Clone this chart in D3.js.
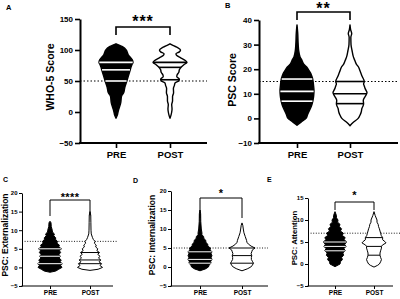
<!DOCTYPE html>
<html><head><meta charset="utf-8">
<script src="https://cdn.jsdelivr.net/npm/d3@7"></script>
<style>
body{margin:0;background:#fff;}
svg{display:block;font-family:"Liberation Sans",Arial,sans-serif;}
</style></head><body>
<svg id="c" width="400" height="299"></svg>
<script>
const groups = ["PRE", "POST"];

// Violin density profiles: [score value, relative density]
const whoPre = [[110,0],[107,0.25],[105,0.4],[100,0.6],[95,0.68],[92,0.72],[88,0.85],[84,0.96],[80,1.0],[76,0.93],[72,0.88],[68,0.84],[60,0.75],[50,0.64],[40,0.52],[31,0.45],[25,0.32],[15,0.28],[5,0.17],[0,0.12],[-5,0.08],[-10,0]];
const whoPost = [[110,0],[107,0.2],[104,0.45],[100,0.62],[97,0.55],[94,0.35],[91,0.4],[87,0.65],[83,0.9],[80,1.0],[77,0.85],[73,0.68],[68,0.55],[64,0.52],[60,0.42],[57,0.4],[53,0.55],[50,0.5],[47,0.3],[43,0.26],[38,0.2],[31,0.21],[25,0.15],[18,0.15],[12,0.1],[5,0.12],[0,0.1],[-5,0.06],[-10,0]];
const pscPre = [[38,0],[35,0.04],[30,0.07],[27.6,0.1],[25,0.18],[23.6,0.29],[22,0.4],[20.9,0.57],[19.5,0.7],[18.8,0.77],[17,0.88],[15.4,0.94],[13,0.98],[11.4,1.0],[9,0.98],[7.3,0.94],[5,0.85],[3.3,0.74],[1.5,0.62],[0,0.53],[-1.5,0.24],[-2.8,0]];
const pscPost = [[38,0],[36,0.04],[34.5,0.1],[33,0.05],[30,0.06],[27.6,0.12],[25,0.2],[23.6,0.28],[22,0.38],[20.9,0.5],[19.5,0.58],[18.8,0.62],[17,0.72],[15,0.84],[14,0.8],[13.2,0.84],[12,0.9],[10.5,1.0],[9,0.9],[7.3,0.78],[6,0.8],[5.3,0.78],[4,0.7],[2.6,0.66],[1.5,0.6],[0,0.48],[-1.7,0.18],[-3,0]];
const extPre = [[12.4,0],[12,0.08],[11,0.1],[10,0.18],[9.5,0.2],[9,0.35],[8.5,0.3],[8,0.45],[7.5,0.45],[7,0.6],[6.5,0.55],[6,0.75],[5.5,0.7],[5,0.92],[4.5,0.75],[4,0.85],[3.5,0.72],[3,0.82],[2.5,0.72],[2,0.9],[1.5,0.8],[1,0.98],[0.5,0.85],[0,0.96],[-0.5,0.7],[-1,0.45],[-1.3,0]];
const extPost = [[15,0],[14,0.06],[12,0.07],[10,0.08],[9,0.1],[8,0.2],[7.5,0.27],[7,0.4],[6.5,0.35],[6,0.5],[5.5,0.45],[5,0.62],[4.5,0.55],[4,0.75],[3.5,0.62],[3,0.8],[2.5,0.68],[2,0.86],[1.5,0.72],[1,0.92],[0.5,0.8],[0,1.0],[-0.5,0.65],[-0.8,0]];
const intPre = [[15,0],[14,0.05],[12,0.06],[10,0.1],[9,0.15],[8.5,0.15],[8,0.28],[7.5,0.3],[7,0.45],[6.5,0.45],[6,0.6],[5.5,0.6],[5,0.8],[4.5,0.78],[4,0.92],[3.5,0.85],[3,0.92],[2.5,0.86],[2,0.92],[1.5,0.82],[1,0.85],[0.5,0.7],[0,0.65],[-0.5,0.42],[-1,0]];
const intPost = [[11.6,0],[11,0.06],[10,0.1],[9,0.15],[8,0.25],[7,0.35],[6.5,0.38],[6,0.5],[5.5,0.7],[5,1.0],[4.5,0.8],[4,0.75],[3.5,0.7],[3,0.75],[2.5,0.72],[2,0.72],[1.5,0.8],[1,0.88],[0.5,0.8],[0,0.68],[-0.5,0.4],[-1,0]];
const attPre = [[11.9,0],[11,0.12],[10.5,0.12],[10,0.25],[9.5,0.22],[9,0.42],[8.5,0.35],[8,0.55],[7.5,0.45],[7,0.7],[6.5,0.6],[6,0.85],[5.5,0.75],[5,1.0],[4.5,0.8],[4,0.92],[3.5,0.75],[3,0.85],[2.5,0.65],[2,0.72],[1.5,0.55],[1,0.62],[0.5,0.45],[0,0.42],[-0.6,0]];
const attPost = [[11.9,0],[11,0.1],[10,0.25],[9.5,0.25],[9,0.35],[8.5,0.38],[8,0.45],[7.5,0.5],[7,0.55],[6.5,0.6],[6,0.72],[5.5,0.72],[5,0.95],[4.8,1.0],[4.3,0.7],[4,0.62],[3.6,0.62],[3,0.55],[2.5,0.5],[2,0.5],[1.5,0.55],[1,0.62],[0.5,0.55],[0,0.45],[-0.3,0.3],[-0.7,0]];

// Quartiles [Q1, median, Q3]
const qWhoPre = [50, 68, 80], qWhoPost = [52, 72, 80];
const qPscPre = [7, 11, 16], qPscPost = [6, 10, 15];
const qExtPre = [1, 3, 5], qExtPost = [1, 2, 4];
const qIntPre = [1, 2, 4], qIntPost = [1, 3, 5];
const qAttPre = [3, 4, 5], qAttPost = [2, 4, 6];

// Tick values
const ticksWho = [-50, 0, 50, 100, 150];
const ticksPsc = [-10, 0, 10, 20, 30, 40];
const ticksExt = [-5, 0, 5, 10, 15, 20];
const ticksInt = [-5, 0, 5, 10, 15, 20];
const ticksAtt = [-5, 0, 5, 10, 15];

// Cutoff reference lines
const cutWho = 50, cutPsc = 15, cutExt = 7, cutInt = 5, cutAtt = 7;

const svg = d3.select("#c");

function densAt(prof, v) {
  for (let i = 0; i < prof.length - 1; i++) {
    const a = prof[i], b = prof[i + 1];
    if (v <= a[0] && v >= b[0]) {
      const t = (a[0] - v) / (a[0] - b[0]);
      return a[1] + t * (b[1] - a[1]);
    }
  }
  return 0;
}

function panel(p) {
  const g = svg.append("g");
  const y = d3.scaleLinear().domain(p.domain).range([p.yBottom, p.yTop]);
  const x = d3.scalePoint().domain(groups).range([p.xPre, p.xPost]);
  const w = d3.scaleLinear().domain([0, 1]).range([0, p.maxHalf]);

  g.append("line").attr("x1", p.axisX).attr("x2", p.dotEnd)
    .attr("y1", y(p.cut)).attr("y2", y(p.cut))
    .attr("stroke", "#000").attr("stroke-width", p.big ? 1.2 : 0.9)
    .attr("stroke-dasharray", p.big ? "1.5,2" : "1,1.6");

  const curve = p.big ? d3.curveMonotoneY : d3.curveLinear;
  [[p.pre, p.qPre, "PRE"], [p.post, p.qPost, "POST"]].forEach(([prof, q, grp]) => {
    const cx = x(grp);
    const area = d3.area().curve(curve)
      .y(d => y(d[0])).x0(d => cx - w(d[1])).x1(d => cx + w(d[1]));
    const filled = grp === "PRE";
    g.append("path").datum(prof).attr("d", area)
      .attr("fill", filled ? "#000" : "#fff")
      .attr("stroke", "#000").attr("stroke-width", p.big ? 1.4 : 1)
      .attr("stroke-linejoin", "round");
    q.forEach(v => {
      const hw = w(densAt(prof, v)) - (filled ? 0.3 : 0);
      g.append("line").attr("x1", cx - hw).attr("x2", cx + hw)
        .attr("y1", y(v)).attr("y2", y(v))
        .attr("stroke", filled ? "#fff" : "#000")
        .attr("stroke-width", p.big ? 1.6 : 1);
    });
  });

  const ya = d3.axisLeft(y).tickValues(p.ticks).tickSize(p.big ? 5 : 3)
    .tickSizeOuter(0).tickPadding(p.big ? 2 : 1.5);
  const yg = g.append("g").attr("transform", `translate(${p.axisX},0)`).call(ya);
  yg.select(".domain").attr("stroke-width", p.big ? 2 : 1);
  yg.selectAll(".tick line").attr("stroke-width", p.big ? 1.6 : 1);
  yg.selectAll("text").attr("font-size", p.tickFs).attr("font-weight", "bold")
    .attr("fill", "#000").attr("font-family", "Liberation Sans, Arial, sans-serif");

  g.append("line").attr("x1", p.axisX - (p.big ? 1 : 0.5)).attr("x2", p.axisEnd)
    .attr("y1", p.yBottom).attr("y2", p.yBottom)
    .attr("stroke", "#000").attr("stroke-width", p.big ? 2 : 1);
  const xa = d3.axisBottom(x).tickSize(p.big ? 5 : 3).tickSizeOuter(0).tickPadding(p.big ? 3 : 1.5);
  const xg = g.append("g").attr("transform", `translate(0,${p.yBottom})`).call(xa);
  xg.select(".domain").remove();
  xg.selectAll(".tick line").attr("stroke-width", p.big ? 1.6 : 1);
  xg.selectAll("text").attr("font-size", p.catFs).attr("font-weight", "bold")
    .attr("fill", "#000").attr("font-family", "Liberation Sans, Arial, sans-serif");

  const bx0 = x("PRE"), bx1 = x("POST");
  g.append("path")
    .attr("d", `M${bx0},${p.legEnd}V${p.brTop}H${bx1}V${p.legEnd}`)
    .attr("fill", "none").attr("stroke", "#000").attr("stroke-width", p.big ? 1.6 : 1);
  g.append("text").attr("x", (bx0 + bx1) / 2).attr("y", p.starY)
    .attr("text-anchor", "middle").attr("font-size", p.starFs).attr("font-weight", "bold")
    .attr("letter-spacing", p.starSp).text(p.stars);

  g.append("text").attr("transform", `translate(${p.labX},${p.labY}) rotate(-90)`)
    .attr("text-anchor", "middle").attr("font-size", p.labFs).attr("font-weight", "bold")
    .text(p.label);

  g.append("text").attr("x", p.letX).attr("y", p.letY)
    .attr("font-size", p.letFs).attr("font-weight", "bold").text(p.letter);
}

panel({big: true, domain: [-50, 150], yBottom: 143, yTop: 19, xPre: 116, xPost: 170,
  maxHalf: 17, axisX: 80, axisEnd: 207, dotEnd: 207, cut: cutWho,
  pre: whoPre, post: whoPost, qPre: qWhoPre, qPost: qWhoPost, ticks: ticksWho,
  tickFs: 8, catFs: 9.5, brTop: 27, legEnd: 35, starY: 27, starFs: 16, starSp: 1, stars: "***",
  label: "WHO-5 Score", labX: 54, labY: 77, labFs: 10.5, letter: "A", letX: 6, letY: 10, letFs: 7.5});

panel({big: true, domain: [-10, 40], yBottom: 143, yTop: 20, xPre: 297, xPost: 350,
  maxHalf: 17, axisX: 259, axisEnd: 398, dotEnd: 397, cut: cutPsc,
  pre: pscPre, post: pscPost, qPre: qPscPre, qPost: qPscPost, ticks: ticksPsc,
  tickFs: 8, catFs: 9.5, brTop: 12, legEnd: 20, starY: 13.5, starFs: 16, starSp: 1, stars: "**",
  label: "PSC Score", labX: 236, labY: 80, labFs: 10.5, letter: "B", letX: 225, letY: 8, letFs: 7.5});

panel({big: false, domain: [-5, 20], yBottom: 286, yTop: 193, xPre: 50, xPost: 90,
  maxHalf: 12.5, axisX: 22, axisEnd: 113, dotEnd: 117, cut: cutExt,
  pre: extPre, post: extPost, qPre: qExtPre, qPost: qExtPost, ticks: ticksExt,
  tickFs: 6, catFs: 6.5, brTop: 200, legEnd: 216, starY: 200.5, starFs: 11, starSp: 0.4, stars: "****",
  label: "PSC: Externalization", labX: 8, labY: 235, labFs: 8.5, letter: "C", letX: 3, letY: 182, letFs: 7});

panel({big: false, domain: [-5, 20], yBottom: 286, yTop: 191, xPre: 200, xPost: 242,
  maxHalf: 13, axisX: 171, axisEnd: 268, dotEnd: 268, cut: cutInt,
  pre: intPre, post: intPost, qPre: qIntPre, qPost: qIntPost, ticks: ticksInt,
  tickFs: 6, catFs: 6.5, brTop: 198, legEnd: 218, starY: 196.5, starFs: 11, starSp: 0, stars: "*",
  label: "PSC: Internalization", labX: 155, labY: 235, labFs: 8.5, letter: "D", letX: 133, letY: 183, letFs: 7});

panel({big: false, domain: [-5, 15], yBottom: 286, yTop: 198, xPre: 335, xPost: 374,
  maxHalf: 12, axisX: 308, axisEnd: 393, dotEnd: 400, cut: cutAtt,
  pre: attPre, post: attPost, qPre: qAttPre, qPost: qAttPost, ticks: ticksAtt,
  tickFs: 6, catFs: 6.5, brTop: 202, legEnd: 210, starY: 199, starFs: 11, starSp: 0, stars: "*",
  label: "PSC: Attention", labX: 297, labY: 238, labFs: 7.8, letter: "E", letX: 267, letY: 182, letFs: 7});
</script>
</body></html>
